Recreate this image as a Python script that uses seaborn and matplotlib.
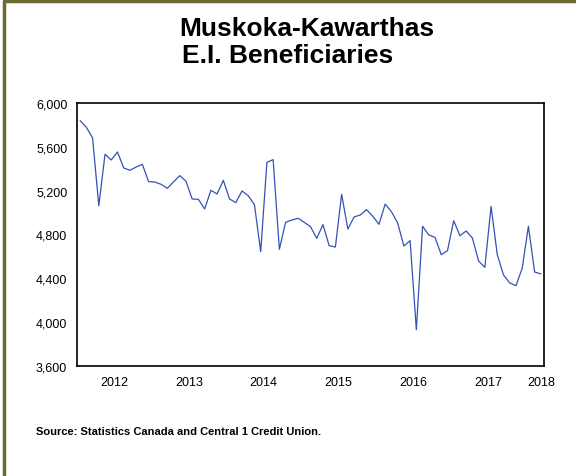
import pandas as pd
import seaborn as sns
import matplotlib.pyplot as plt
import numpy as np
from matplotlib.ticker import FuncFormatter, MultipleLocator
from matplotlib.lines import Line2D

sns.set_style("white")
plt.rcParams['font.family'] = ['Liberation Sans', 'DejaVu Sans']
plt.rcParams['text.color'] = 'black'
plt.rcParams['xtick.color'] = 'black'
plt.rcParams['ytick.color'] = 'black'
plt.rcParams['xtick.labelcolor'] = 'black'
plt.rcParams['ytick.labelcolor'] = 'black'

# monthly E.I. beneficiaries, Jan 2012 - Mar 2018
months = pd.date_range("2012-01-01", periods=75, freq="MS")
beneficiaries = [
    5839, 5778, 5681, 5063, 5532, 5480, 5553, 5407, 5386, 5416, 5440, 5282,
    5279, 5258, 5221, 5280, 5337, 5286, 5124, 5121, 5033, 5203, 5170, 5294,
    5124, 5091, 5197, 5154, 5072, 4643, 5459, 5483, 4665, 4911, 4932, 4948,
    4911, 4872, 4765, 4890, 4698, 4686, 5167, 4850, 4960, 4978, 5027, 4966,
    4893, 5078, 5008, 4905, 4695, 4744, 3931, 4875, 4796, 4774, 4616, 4652,
    4926, 4789, 4832, 4768, 4558, 4501, 5057, 4616, 4431, 4358, 4333, 4492,
    4875, 4458, 4440,
]
year_labels = ["2012", "2013", "2014", "2015", "2016", "2017", "2018"]
y_ticks = [3600, 4000, 4400, 4800, 5200, 5600, 6000]

df = pd.DataFrame({"month": months, "value": beneficiaries})
df["pos"] = np.arange(len(df))

fig = plt.figure(figsize=(5.76, 4.77), dpi=100)
ax = fig.add_axes([0.1337, 0.2306, 0.8107, 0.5514])

sns.lineplot(data=df, x="pos", y="value", color="#3452b4", linewidth=0.9, ax=ax)

ax.set_xlim(-0.5, len(df) - 0.5)
ax.set_ylim(y_ticks[0], y_ticks[-1])
ax.set_yticks(y_ticks)
ax.yaxis.set_major_formatter(FuncFormatter(lambda v, p: f"{int(v):,}"))
ax.set_xlabel("")
ax.set_ylabel("")

# year boundaries as major ticks, months as minor ticks
ax.xaxis.set_major_locator(MultipleLocator(12, offset=-0.5))
ax.xaxis.set_minor_locator(MultipleLocator(1, offset=-0.5))
ax.set_xticklabels([])
ax.tick_params(axis="x", which="major", direction="out", length=5, width=1, color="black")
ax.tick_params(axis="x", which="minor", direction="out", length=2.5, width=0.8, color="black")
ax.tick_params(axis="y", which="major", direction="out", length=5, width=1, color="black",
               labelsize=9, pad=2, labelcolor="black")
ax.tick_params(top=False, right=False)

# year labels at mid-year (last one at end of data)
label_pos = [5.5 + 12 * i for i in range(6)] + [len(df) - 1]
sec = ax.secondary_xaxis("bottom")
sec.set_xticks(label_pos, year_labels)
sec.tick_params(length=0, labelsize=9, pad=7, labelcolor="black")
sec.spines["bottom"].set_visible(False)

for sp in ax.spines.values():
    sp.set_visible(True)
    sp.set_color("black")
    sp.set_linewidth(1.2)

fig.text(0.532, 0.94, "Muskoka-Kawarthas", ha="center", va="center",
         fontsize=19, fontweight="bold", color="black")
fig.text(0.50, 0.882, "E.I. Beneficiaries", ha="center", va="center",
         fontsize=19, fontweight="bold", color="black")
fig.text(0.063, 0.094, "Source: Statistics Canada and Central 1 Credit Union.",
         ha="left", va="center", fontsize=8, fontweight="bold", color="black")

# olive frame on top and left edges
border = "#6e6b30"
fig.add_artist(Line2D([0.007, 1.0], [0.995, 0.995], transform=fig.transFigure,
                      color=border, linewidth=2.5))
fig.add_artist(Line2D([0.007, 0.007], [0.0, 0.995], transform=fig.transFigure,
                      color=border, linewidth=2.5))

fig.savefig("out.png", dpi=100)
